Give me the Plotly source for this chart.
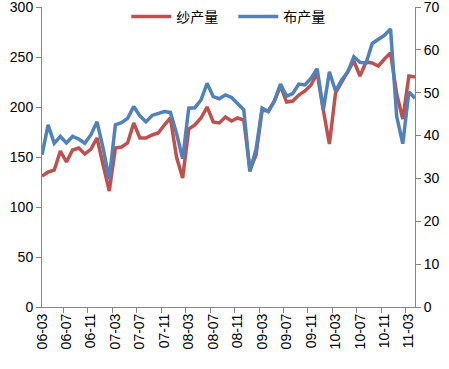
import plotly.graph_objects as go

months = [
    "06-03","06-04","06-05","06-06","06-07","06-08","06-09","06-10","06-11","06-12",
    "07-01","07-02","07-03","07-04","07-05","07-06","07-07","07-08","07-09","07-10","07-11","07-12",
    "08-01","08-02","08-03","08-04","08-05","08-06","08-07","08-08","08-09","08-10","08-11","08-12",
    "09-01","09-02","09-03","09-04","09-05","09-06","09-07","09-08","09-09","09-10","09-11","09-12",
    "10-01","10-02","10-03","10-04","10-05","10-06","10-07","10-08","10-09","10-10","10-11","10-12",
    "11-01","11-02","11-03","11-04",
]

yarn = [
    131, 135, 137, 156, 145, 157, 159, 153, 158, 169,
    142, 116, 159, 160, 164, 184, 169, 169, 172, 174, 182, 189,
    150, 129, 178, 182, 189, 200, 185, 184, 190, 186, 189, 187,
    137, 152, 197, 196, 206, 221, 205, 206, 212, 216, 222, 234,
    197, 163, 214, 225, 235, 246, 231, 245, 244, 241, 248, 254,
    213, 188, 231, 230,
]

cloth = [
    35.5, 42.5, 38.2, 39.8, 38.3, 39.8, 39.2, 38.2, 40.2, 43.2,
    37.0, 29.8, 42.5, 43.0, 44.0, 46.8, 44.6, 43.2, 44.7, 45.2, 45.6, 45.4,
    40.5, 34.6, 46.4, 46.5, 48.3, 52.2, 49.1, 48.6, 49.5, 48.9, 47.5, 46.0,
    31.6, 36.8, 46.4, 45.6, 48.0, 52.0, 49.2, 49.8, 52.0, 51.8, 53.4, 55.6,
    46.0, 54.9, 50.4, 53.0, 54.8, 58.4, 57.1, 56.9, 61.5, 62.4, 63.4, 64.9,
    44.5, 38.1, 50.2, 48.7,
]

left_ticks = [0, 50, 100, 150, 200, 250, 300]
right_ticks = [0, 10, 20, 30, 40, 50, 60, 70]

RED = "#C0504D"
BLUE = "#4F81BD"
AXIS = "#868686"
FONT = "Liberation Sans"

fig = go.Figure()
fig.add_trace(go.Scatter(x=months, y=yarn, name="纱产量", mode="lines",
                         line=dict(color=RED, width=3.5), yaxis="y"))
fig.add_trace(go.Scatter(x=months, y=cloth, name="布产量", mode="lines",
                         line=dict(color=BLUE, width=3.5), yaxis="y2"))

fig.update_layout(
    width=449, height=369,
    margin=dict(l=42, r=34, t=7, b=62, autoexpand=False),
    paper_bgcolor="white", plot_bgcolor="white",
    font=dict(family=FONT, size=13, color="black"),
    showlegend=True,
    legend=dict(orientation="h", x=0.226, xanchor="left", y=0.967, yanchor="middle",
                font=dict(family="Noto Sans CJK SC", size=14, color="black"),
                bgcolor="rgba(0,0,0,0)", itemwidth=40, entrywidth=52,
                tracegroupgap=0),
    xaxis=dict(type="category", categoryorder="array", categoryarray=months,
               tickson="boundaries", dtick=4, tickangle=-90,
               showline=True, linecolor=AXIS, linewidth=1,
               ticks="outside", ticklen=5, tickcolor=AXIS,
               showgrid=False, zeroline=False,
               tickfont=dict(family=FONT, size=14)),
    yaxis=dict(range=[0, 300], tickvals=left_ticks, ticklabeloverflow="allow",
               showline=True, linecolor=AXIS, linewidth=1,
               ticks="outside", ticklen=5, tickcolor=AXIS,
               showgrid=False, zeroline=False,
               tickfont=dict(family=FONT, size=14)),
    yaxis2=dict(range=[0, 70], tickvals=right_ticks, overlaying="y", side="right",
                ticklabeloverflow="allow",
                showline=True, linecolor=AXIS, linewidth=1,
                ticks="outside", ticklen=5, tickcolor=AXIS,
                showgrid=False, zeroline=False,
                tickfont=dict(family=FONT, size=14)),
)

fig.write_html("out.html",
               config={"displayModeBar": False},
               post_script="document.body.style.margin='0';document.body.style.overflow='hidden';")
